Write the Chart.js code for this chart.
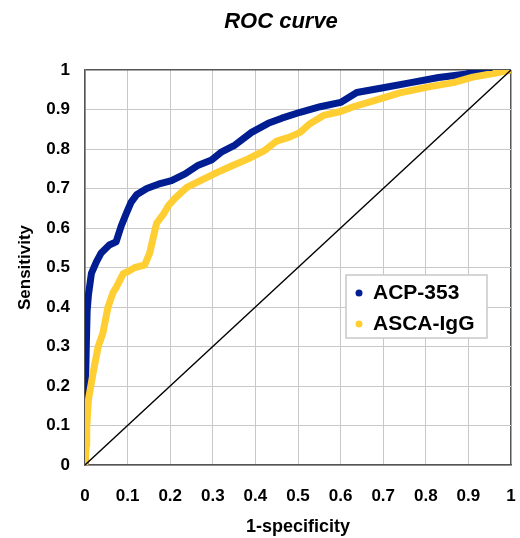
<!DOCTYPE html>
<html><head><meta charset="utf-8">
<script src="https://cdn.jsdelivr.net/npm/chart.js@4.4.1/dist/chart.umd.min.js"></script>
<style>html,body{margin:0;padding:0;background:#fff}#wrap{width:520px;height:538px}</style>
</head><body><div id="wrap"><canvas id="c" width="520" height="538"></canvas></div>
<script>
const chartTitle = 'ROC curve';
const xTitle = '1-specificity';
const yTitle = 'Sensitivity';
const seriesNames = ['ACP-353', 'ASCA-IgG'];
const tickLabels = ['0','0.1','0.2','0.3','0.4','0.5','0.6','0.7','0.8','0.9','1'];

const acpX = [0, 0, 0.001, 0.003, 0.005, 0.008, 0.015, 0.027, 0.038, 0.057, 0.073, 0.085, 0.097, 0.108, 0.121, 0.145, 0.172, 0.203, 0.235, 0.266, 0.297, 0.321, 0.352, 0.391, 0.43, 0.462, 0.505, 0.552, 0.6, 0.638, 0.70, 0.765, 0.83, 0.896, 0.92, 0.96, 1];
const acpY = [0, 0.10, 0.17, 0.30, 0.39, 0.43, 0.485, 0.515, 0.537, 0.557, 0.565, 0.605, 0.637, 0.665, 0.684, 0.70, 0.711, 0.72, 0.737, 0.759, 0.772, 0.793, 0.81, 0.842, 0.865, 0.878, 0.893, 0.907, 0.918, 0.943, 0.955, 0.968, 0.981, 0.99, 0.998, 1.0, 1];

const ascaX = [0, 0.003, 0.004, 0.008, 0.019, 0.031, 0.042, 0.054, 0.066, 0.074, 0.09, 0.101, 0.117, 0.14, 0.152, 0.16, 0.168, 0.184, 0.196, 0.211, 0.239, 0.278, 0.313, 0.344, 0.383, 0.42, 0.45, 0.48, 0.505, 0.528, 0.56, 0.60, 0.63, 0.677, 0.739, 0.81, 0.865, 0.91, 0.958, 1];
const ascaY = [0, 0.05, 0.097, 0.165, 0.233, 0.30, 0.334, 0.40, 0.437, 0.451, 0.485, 0.49, 0.50, 0.506, 0.537, 0.575, 0.612, 0.635, 0.657, 0.675, 0.703, 0.724, 0.742, 0.757, 0.775, 0.795, 0.82, 0.83, 0.842, 0.864, 0.885, 0.895, 0.907, 0.922, 0.942, 0.958, 0.968, 0.982, 0.991, 1];

const refX = [0, 1];
const refY = [0, 1];

const FONT = '"Liberation Sans", Arial, Helvetica, sans-serif';
const BLUE = 'rgb(0,30,145)';
const YELLOW = 'rgb(255,206,50)';

const pts = (xs, ys) => xs.map((x, i) => ({x, y: ys[i]}));

const titleShift = {
  id: 'titleShift',
  afterLayout(chart) { if (chart.titleBlock) { chart.titleBlock.left += 42; } }
};

const legendBox = {
  id: 'legendBox',
  afterDatasetsDraw(chart) {
    const {ctx, chartArea: a} = chart;
    const x0 = a.left + 261, y0 = a.top + 205, w = 141, h = 63;
    ctx.save();
    ctx.fillStyle = '#fff';
    ctx.fillRect(x0, y0, w, h);
    ctx.strokeStyle = '#c8c8c8';
    ctx.lineWidth = 1.5;
    ctx.strokeRect(x0, y0, w, h);
    let row = 0;
    chart.data.datasets.forEach((ds) => {
      if (!ds.label) return;
      const cy = y0 + 18 + row * 31;
      ctx.fillStyle = ds.borderColor;
      ctx.beginPath();
      ctx.arc(x0 + 13, cy, 3.5, 0, Math.PI * 2);
      ctx.fill();
      ctx.fillStyle = '#000';
      ctx.font = 'bold 21px ' + FONT;
      ctx.textBaseline = 'middle';
      ctx.textAlign = 'left';
      ctx.fillText(ds.label, x0 + 27, cy);
      row++;
    });
    ctx.restore();
  }
};

new Chart(document.getElementById('c'), {
  type: 'line',
  data: {
    datasets: [
      { label: seriesNames[0], data: pts(acpX, acpY), borderColor: BLUE, backgroundColor: BLUE, borderWidth: 7, pointRadius: 0, tension: 0, borderCapStyle: 'round', borderJoinStyle: 'round', order: 2 },
      { label: seriesNames[1], data: pts(ascaX, ascaY), borderColor: YELLOW, backgroundColor: YELLOW, borderWidth: 7, pointRadius: 0, tension: 0, borderCapStyle: 'round', borderJoinStyle: 'round', order: 1 },
      { label: '', data: pts(refX, refY), borderColor: '#000', borderWidth: 1.3, pointRadius: 0, tension: 0, order: 0 }
    ]
  },
  options: {
    responsive: false,
    animation: false,
    devicePixelRatio: 1,
    layout: { padding: { left: 0, right: 0, top: 0, bottom: 0 } },
    plugins: {
      legend: { display: false },
      tooltip: { enabled: false },
      title: {
        display: true, text: chartTitle, color: '#000',
        font: { family: FONT, size: 22, weight: 'bold', style: 'italic' },
        padding: { top: 9, bottom: 34.6 }
      }
    },
    scales: {
      x: {
        type: 'linear', min: 0, max: 1,
        afterFit(s) { s.height = 73; s.paddingLeft = 0; s.paddingRight = 9; },
        ticks: { stepSize: 0.1, padding: 21, color: '#000', font: { family: FONT, size: 17, weight: 'bold' }, maxRotation: 0, autoSkip: false,
          callback: (v, i) => tickLabels[i] },
        grid: { drawTicks: false, color: (c) => (c.tick && c.tick.value === 1 ? '#555' : '#c8c8c8'), lineWidth: (c) => (c.tick && c.tick.value === 1 ? 1.5 : 1) },
        border: { display: true, color: '#555', width: 1.5 },
        title: { display: true, text: xTitle, color: '#000', font: { family: FONT, size: 18, weight: 'bold' }, padding: { top: 0, bottom: 0 } }
      },
      y: {
        type: 'linear', min: 0, max: 1,
        afterFit(s) { s.width = 85; },
        ticks: { stepSize: 0.1, padding: 15, color: '#000', font: { family: FONT, size: 17, weight: 'bold' }, autoSkip: false,
          callback: (v, i) => tickLabels[i] },
        grid: { drawTicks: false, color: (c) => (c.tick && c.tick.value === 1 ? '#555' : '#c8c8c8'), lineWidth: (c) => (c.tick && c.tick.value === 1 ? 1.5 : 1) },
        border: { display: true, color: '#555', width: 1.5 },
        title: { display: true, text: yTitle, color: '#000', font: { family: FONT, size: 17, weight: 'bold' }, padding: { top: 15, bottom: 0 } }
      }
    }
  },
  plugins: [titleShift, legendBox]
});
</script>
</body></html>
